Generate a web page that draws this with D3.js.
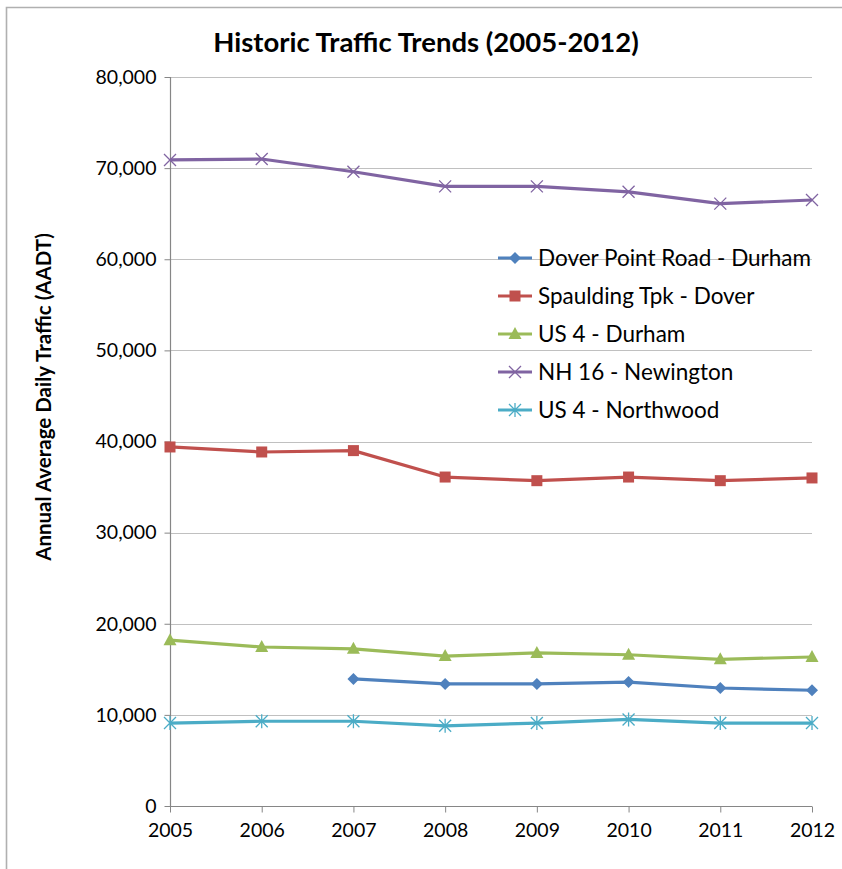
<!DOCTYPE html>
<html>
<head>
<meta charset="utf-8">
<script src="https://cdn.jsdelivr.net/npm/d3@7"></script>
<style>
    html, body { margin: 0; background: #fff; overflow: hidden; }
    svg { display: block; }
    text { font-family: Lato, "Open Sans", sans-serif; fill: #000; }
</style>
</head>
<body>
<svg></svg>
<script>
var years = [2005, 2006, 2007, 2008, 2009, 2010, 2011, 2012];
var seriesNames = ["Dover Point Road - Durham", "Spaulding Tpk - Dover", "US 4 - Durham", "NH 16 - Newington", "US 4 - Northwood"];
var doverPoint = [null, null, 13950, 13400, 13400, 13600, 12950, 12700];
var spaulding = [39400, 38850, 39000, 36100, 35700, 36100, 35700, 36000];
var us4Durham = [18200, 17450, 17250, 16450, 16800, 16600, 16100, 16350];
var nh16 = [70900, 71000, 69600, 68000, 68000, 67400, 66100, 66500];
var us4Northwood = [9100, 9300, 9300, 8800, 9100, 9500, 9100, 9100];
var yTicks = [0, 10000, 20000, 30000, 40000, 50000, 60000, 70000, 80000];
var colors = ["#4F81BD", "#C0504D", "#9BBB59", "#8064A2", "#4BACC6"];
var markers = ["diamond", "square", "triangle", "x", "star"];

var width = 842, height = 869;
var svg = d3.select("svg").attr("width", width).attr("height", height);

// outer chart border, only top and left edges are visible in the crop
svg.append("path")
    .attr("d", "M6.5," + height + "V7.5H" + width)
    .attr("fill", "none").attr("stroke", "#b0b0b0").attr("stroke-width", 1.6);

var x = d3.scalePoint().domain(years).range([170, 812]);
var y = d3.scaleLinear().domain([0, 80000]).range([806, 77]);

// gridlines
svg.append("g").selectAll("line")
    .data(yTicks.slice(1))
    .enter().append("line")
    .attr("x1", 170).attr("x2", 812)
    .attr("y1", function (d) { return Math.round(y(d)) + 0.5; })
    .attr("y2", function (d) { return Math.round(y(d)) + 0.5; })
    .attr("stroke", "#c0c0c0").attr("stroke-width", 1.2);

var yAxis = svg.append("g")
    .attr("transform", "translate(170.5,0)")
    .call(d3.axisLeft(y).tickValues(yTicks).tickSize(6).tickPadding(8).tickFormat(d3.format(",")));
var xAxis = svg.append("g")
    .attr("transform", "translate(0,806.5)")
    .call(d3.axisBottom(x).tickSize(6).tickPadding(7).tickFormat(d3.format("d")));

[yAxis, xAxis].forEach(function (a) {
    a.select(".domain").attr("stroke", "#868686").attr("stroke-width", 1.2);
    a.selectAll(".tick line").attr("stroke", "#868686");
    a.selectAll("text").style("font-size", "19.5px").style("font-family", "Lato, sans-serif").attr("fill", "#000");
});
yAxis.select(".domain").attr("d", "M0,77V806");
xAxis.select(".domain").attr("d", "M170,0H812");
xAxis.selectAll("text").attr("dy", "0.9em");

svg.append("text")
    .attr("x", 426).attr("y", 52)
    .attr("text-anchor", "middle")
    .style("font-size", "27.5px").style("font-weight", "bold")
    .text("Historic Traffic Trends (2005-2012)");

svg.append("text")
    .attr("transform", "translate(51,397) rotate(-90)")
    .attr("text-anchor", "middle")
    .style("font-size", "20.5px").style("font-weight", "bold")
    .text("Annual Average Daily Traffic (AADT)");

function drawMarker(g, type, color) {
    if (type === "diamond") {
        g.append("path").attr("d", "M0,-6L6,0L0,6L-6,0Z").attr("fill", color);
    } else if (type === "square") {
        g.append("rect").attr("x", -5.5).attr("y", -5.5).attr("width", 11).attr("height", 11).attr("fill", color);
    } else if (type === "triangle") {
        g.append("path").attr("d", "M0,-7L6.5,5L-6.5,5Z").attr("fill", color);
    } else if (type === "x") {
        g.append("path").attr("d", "M-6,-6L6,6M-6,6L6,-6").attr("stroke", color).attr("stroke-width", 1.3).attr("fill", "none");
    } else {
        g.append("path").attr("d", "M-6,-6L6,6M-6,6L6,-6M0,-7V7").attr("stroke", color).attr("stroke-width", 1.3).attr("fill", "none");
    }
}

var allSeries = [doverPoint, spaulding, us4Durham, nh16, us4Northwood];
var line = d3.line()
    .defined(function (d) { return d.v !== null; })
    .x(function (d) { return x(d.year); })
    .y(function (d) { return y(d.v); });

allSeries.forEach(function (vals, i) {
    var pts = years.map(function (yr, j) { return { year: yr, v: vals[j] }; });
    svg.append("path")
        .datum(pts)
        .attr("d", line)
        .attr("fill", "none")
        .attr("stroke", colors[i])
        .attr("stroke-width", 3.2)
        .attr("stroke-linejoin", "round");
    pts.filter(function (d) { return d.v !== null; }).forEach(function (d) {
        var g = svg.append("g").attr("transform", "translate(" + x(d.year) + "," + y(d.v) + ")");
        drawMarker(g, markers[i], colors[i]);
    });
});

// legend
var legend = svg.append("g").attr("transform", "translate(498,258)");
seriesNames.forEach(function (name, i) {
    var row = legend.append("g").attr("transform", "translate(0," + (i * 38) + ")");
    row.append("line").attr("x1", 0).attr("x2", 34).attr("y1", 0).attr("y2", 0)
        .attr("stroke", colors[i]).attr("stroke-width", 3.2);
    var m = row.append("g").attr("transform", "translate(17,0)");
    drawMarker(m, markers[i], colors[i]);
    row.append("text").attr("x", 40).attr("y", 0).attr("dy", "0.35em")
        .style("font-size", "22.5px").text(name);
});
</script>
</body>
</html>
